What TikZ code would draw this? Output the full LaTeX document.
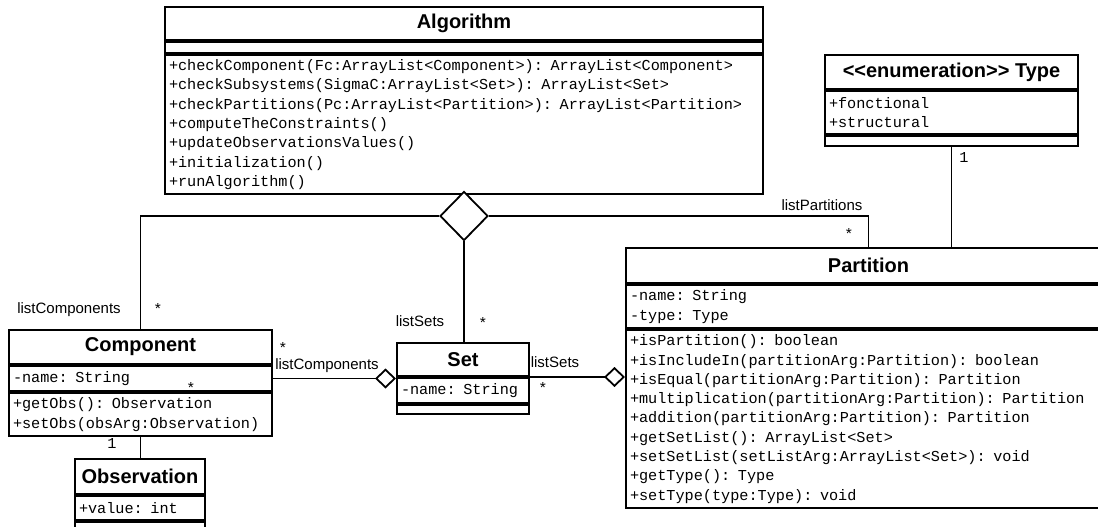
\documentclass[tikz,border=0pt]{standalone}
\usepackage{fontspec}
\setmainfont{Liberation Sans}
\newfontfamily\monofont{Liberation Mono}
\usetikzlibrary{positioning,shapes.geometric,arrows.meta}
\tikzset{
  classname/.style={draw, line width=2pt, fill=white, anchor=north west, inner sep=0pt,
    font=\fontsize{20}{24}\selectfont\bfseries},
  members/.style={draw, line width=2pt, fill=white, anchor=north west, inner xsep=4pt,
    inner ysep=0pt, align=left, font=\monofont\fontsize{15.2}{19.3}\selectfont},
  link/.style={line width=1.8pt},
  aggr/.style={link, -{Diamond[fill=white, length=21pt, width=20pt]}},
  role/.style={font=\fontsize{15}{18}\selectfont, inner sep=0pt},
  mult/.style={font=\monofont\fontsize{15.2}{18}\selectfont, inner sep=0pt}
}
\begin{document}
\begin{tikzpicture}[x=1pt, y=-1pt]
\useasboundingbox (0,0) rectangle (1098,527);
\node[classname, minimum width=598pt, minimum height=33pt] (algT) at (164,6) {Algorithm};
\node[members, text width=590pt, minimum height=11pt] (algA) at (algT.south west) {};
\node[members, text width=590pt, minimum height=139pt] (algM) at (algA.south west) {+checkComponent(Fc:ArrayList<Component>): ArrayList<Component>\\
+checkSubsystems(SigmaC:ArrayList<Set>): ArrayList<Set>\\
+checkPartitions(Pc:ArrayList<Partition>): ArrayList<Partition>\\
+computeTheConstraints()\\
+updateObservationsValues()\\
+initialization()\\
+runAlgorithm()};
\node[classname, minimum width=253pt, minimum height=34pt] (typeT) at (824,54) {<{}<enumeration>{}> Type};
\node[members, text width=245pt, minimum height=43pt] (typeA) at (typeT.south west) {+fonctional\\+structural};
\node[members, text width=245pt, minimum height=10pt] (typeE) at (typeA.south west) {};
\node[classname, minimum width=485pt, minimum height=35pt] (partT) at (625,247) {Partition};
\node[members, text width=477pt, minimum height=43pt] (partA) at (partT.south west) {-name: String\\-type: Type};
\node[members, text width=477pt, minimum height=178pt] (partM) at (partA.south west) {+isPartition(): boolean\\
+isIncludeIn(partitionArg:Partition): boolean\\
+isEqual(partitionArg:Partition): Partition\\
+multiplication(partitionArg:Partition): Partition\\
+addition(partitionArg:Partition): Partition\\
+getSetList(): ArrayList<Set>\\
+setSetList(setListArg:ArrayList<Set>): void\\
+getType(): Type\\
+setType(type:Type): void};
\node[classname, minimum width=263pt, minimum height=34pt] (compT) at (8,329) {Component};
\node[members, text width=255pt, minimum height=25pt] (compA) at (compT.south west) {-name: String};
\node[mult] (mStray) at (191,388) {*};
\node[members, text width=255pt, minimum height=43pt] (compM) at (compA.south west) {+getObs(): Observation\\+setObs(obsArg:Observation)};
\node[classname, minimum width=132pt, minimum height=33pt] (setT) at (396,342) {Set};
\node[members, text width=124pt, minimum height=25pt] (setA) at (setT.south west) {-name: String};
\node[members, text width=124pt, minimum height=9pt] (setE) at (setA.south west) {};
\node[classname, minimum width=130pt, minimum height=35pt] (obsT) at (74,458) {Observation};
\node[members, text width=122pt, minimum height=24pt] (obsA) at (obsT.south west) {+value: int};
\node[members, text width=122pt, minimum height=11pt] (obsE) at (obsA.south west) {};
\node[draw, diamond, line width=1.8pt, fill=white, minimum width=48pt, minimum height=49pt, inner sep=0pt] (dia) at (464,216) {};
\draw[link] (dia.west) -| (compT.north);
\draw[link] (dia.east) -| (partT.north);
\draw[link] (dia.south) -- (dia.south |- setT.north);
\draw[link] (typeE.south) -- (typeE.south |- partT.north);
\draw[link] (compM.south) -- (compM.south |- obsT.north);
\draw[aggr] (compA.east) -- (compA.east -| setT.west);
\draw[aggr] (setT.south east) -- (setT.south east -| partM.west);
\node[role] (rCompUp) at (69,310) {listComponents};
\node[mult] (mCompUp) at (158,309) {*};
\node[role] (rCompSet) at (327,366) {listComponents};
\node[mult] (mCompSet) at (283,348) {*};
\node[role] (rSetUp) at (420,321) {listSets};
\node[mult] (mSetUp) at (483,323) {*};
\node[role] (rSetPart) at (555,362) {listSets};
\node[mult] (mSetPart) at (543,388) {*};
\node[role] (rPart) at (822,205) {listPartitions};
\node[mult] (mPart) at (849,234) {*};
\node[mult] (mType) at (964,157) {1};
\node[mult] (mObs) at (112,443) {1};
\end{tikzpicture}
\end{document}
